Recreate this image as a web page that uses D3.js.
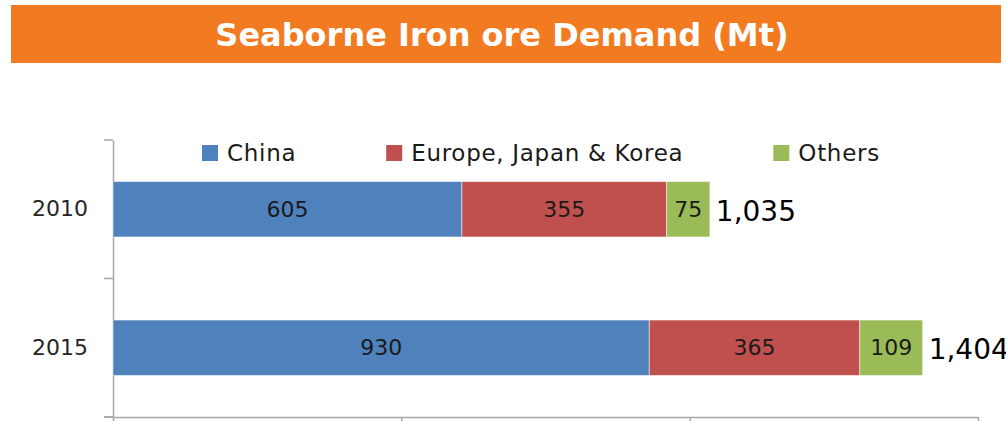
<!DOCTYPE html>
<html>
<head>
<meta charset="utf-8">
<script src="https://cdn.jsdelivr.net/npm/d3@7"></script>
<style>
  body { margin: 0; background: #fff; }
  text { font-family: "DejaVu Sans", Verdana, sans-serif; }
</style>
</head>
<body>
<div id="chart"></div>
<script>
const title = 'Seaborne Iron ore Demand (Mt)';
const years = ['2010', '2015'];
const seriesNames = ['China', 'Europe, Japan & Korea', 'Others'];
const china = [605, 930];
const europeJapanKorea = [355, 365];
const others = [75, 109];
const xTicks = [0, 500, 1000, 1500];

const colors = ['#4F81BD', '#C0504D', '#9BBB59'];
const width = 1006, height = 421;

const rows = years.map((y, i) => ({
  year: y,
  'China': china[i],
  'Europe, Japan & Korea': europeJapanKorea[i],
  'Others': others[i]
}));

const svg = d3.select('#chart').append('svg')
  .attr('width', width)
  .attr('height', height);

// title band
svg.append('rect')
  .attr('x', 11).attr('y', 5)
  .attr('width', 990).attr('height', 58)
  .attr('fill', '#F27B22');
svg.append('text')
  .attr('x', 502).attr('y', 35)
  .attr('text-anchor', 'middle')
  .attr('dominant-baseline', 'central')
  .attr('fill', '#fff')
  .attr('font-weight', 'bold')
  .attr('font-size', 32)
  .text(title);

const x = d3.scaleLinear().domain([0, 1500]).range([113, 978]);
const y = d3.scaleBand().domain(years).range([140, 417])
  .paddingInner(0.6).paddingOuter(0.3);

// axes
const axisColor = '#a6a6a6';
const xAxis = svg.append('g')
  .attr('transform', 'translate(0,417)')
  .call(d3.axisBottom(x).tickValues(xTicks).tickSize(8).tickSizeOuter(0).tickFormat(''));
xAxis.select('.domain').attr('stroke', axisColor).attr('stroke-width', 1.5);
xAxis.selectAll('.tick line').attr('stroke', axisColor).attr('stroke-width', 1.5);
svg.append('line')
  .attr('x1', 104).attr('x2', 113).attr('y1', 417).attr('y2', 417)
  .attr('stroke', axisColor).attr('stroke-width', 1.5);

const yAxis = svg.append('g')
  .attr('transform', 'translate(113,0)')
  .call(d3.axisLeft(y).tickSize(0).tickPadding(25).tickSizeOuter(0));
yAxis.select('.domain').attr('stroke', axisColor).attr('stroke-width', 1.5);
yAxis.selectAll('.tick text')
  .attr('font-size', 22)
  .attr('fill', '#262626')
  .style('font-family', '"DejaVu Sans", Verdana, sans-serif');

// band boundary ticks on y axis
const boundaries = [y.range()[0]].concat(years.map(d => y(d) + y.bandwidth() + y.step() * y.paddingInner() / 2));
boundaries[boundaries.length - 1] = y.range()[1];
svg.selectAll('.ytick').data(boundaries).enter().append('line')
  .attr('x1', 104).attr('x2', 113)
  .attr('y1', d => d).attr('y2', d => d)
  .attr('stroke', axisColor).attr('stroke-width', 1.5);

// stacked bars
const stack = d3.stack().keys(seriesNames);
const layers = stack(rows);

const layer = svg.selectAll('.layer').data(layers).enter().append('g')
  .attr('fill', (d, i) => colors[i]);

layer.selectAll('rect').data(d => d).enter().append('rect')
  .attr('x', d => x(d[0]))
  .attr('y', d => y(d.data.year))
  .attr('width', d => x(d[1]) - x(d[0]))
  .attr('height', y.bandwidth())
  .attr('stroke', '#fff')
  .attr('stroke-opacity', 0.5)
  .attr('stroke-width', 1);

layer.selectAll('text').data(d => d).enter().append('text')
  .attr('x', d => (x(d[0]) + x(d[1])) / 2)
  .attr('y', d => y(d.data.year) + y.bandwidth() / 2)
  .attr('text-anchor', 'middle')
  .attr('dominant-baseline', 'central')
  .attr('font-size', 22)
  .attr('fill', '#1a1a1a')
  .text(d => d[1] - d[0]);

// totals
svg.selectAll('.total').data(rows).enter().append('text')
  .attr('x', d => x(d3.sum(seriesNames, k => d[k])) + 6)
  .attr('y', d => y(d.year) + y.bandwidth() / 2 + 2)
  .attr('dominant-baseline', 'central')
  .attr('font-size', 28)
  .attr('fill', '#000')
  .text(d => d3.format(',')(d3.sum(seriesNames, k => d[k])));

// legend
const legend = svg.append('g').attr('transform', 'translate(202,153)');
let lx = 0;
seriesNames.forEach((name, i) => {
  const g = legend.append('g').attr('transform', `translate(${lx},0)`);
  g.append('rect')
    .attr('x', 0).attr('y', -8)
    .attr('width', 16).attr('height', 16)
    .attr('fill', colors[i]);
  const t = g.append('text')
    .attr('x', 25).attr('y', 0)
    .attr('dominant-baseline', 'central')
    .attr('font-size', 23)
    .attr('letter-spacing', 0.7)
    .attr('fill', '#1a1a1a')
    .text(name);
  lx += 25 + t.node().getComputedTextLength() + 90;
});
</script>
</body>
</html>
